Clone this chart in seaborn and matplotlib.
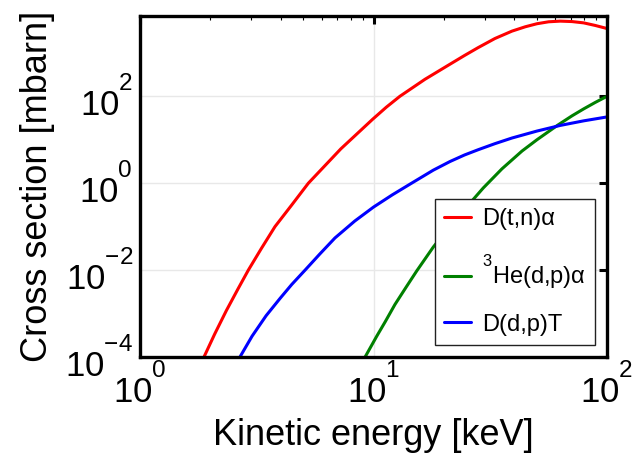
import numpy as np
import pandas as pd
import matplotlib
matplotlib.use("Agg")
import matplotlib.pyplot as plt
import matplotlib.ticker as mticker
import seaborn as sns

try:
    import matplotlib._mathtext as _mt
    _mt.FontConstantsBase.sup1 = 1.35   # raise superscripts like the reference
except Exception:
    pass

# ---- data (log10 of energy in keV, log10 of cross section in mbarn)
dt_logE = [0.274, 0.32, 0.37, 0.42, 0.464, 0.52, 0.578, 0.65, 0.721, 0.86, 0.996, 1.055, 1.113,
           1.22, 1.328, 1.39, 1.448, 1.52, 1.593, 1.65, 1.70, 1.75, 1.80, 1.85, 1.90, 1.95, 2.0]
dt_logS = [-4.0, -3.47, -2.93, -2.43, -2.0, -1.5, -1.0, -0.5, 0.0, 0.79, 1.47, 1.75, 2.0,
           2.39, 2.74, 2.94, 3.12, 3.33, 3.50, 3.60, 3.67, 3.715, 3.73, 3.72, 3.69, 3.63, 3.56]

he3_logE = [0.964, 1.014, 1.05, 1.092, 1.14, 1.185, 1.256, 1.33, 1.40, 1.47, 1.55, 1.636,
            1.70, 1.79, 1.85, 1.90, 1.95, 2.0]
he3_logS = [-4.0, -3.52, -3.19, -2.79, -2.39, -2.02, -1.47, -0.97, -0.54, -0.11, 0.33, 0.74,
            1.0, 1.34, 1.55, 1.71, 1.86, 2.0]

dd_logE = [0.428, 0.48, 0.54, 0.60, 0.65, 0.707, 0.77, 0.835, 0.92, 1.0, 1.08, 1.163, 1.256,
           1.328, 1.39, 1.448, 1.52, 1.593, 1.70, 1.80, 1.90, 2.0]
dd_logS = [-4.0, -3.52, -3.05, -2.65, -2.33, -2.0, -1.63, -1.26, -0.87, -0.55, -0.27, 0.0, 0.30,
           0.50, 0.65, 0.77, 0.91, 1.04, 1.20, 1.33, 1.435, 1.525]

labels = ["D(t,n)α", r"$\mathregular{^{3}}$He(d,p)α", "D(d,p)T"]
colors = ["#ff0000", "#008000", "#0000ff"]

x_ticks = [1, 10, 100]
x_ticklabels = [r"$\mathregular{10^{0}}$", r"$\mathregular{10^{1}}$", r"$\mathregular{10^{2}}$"]
y_ticks = [1e-4, 1e-2, 1e0, 1e2]
y_ticklabels = [r"$\mathregular{10^{-4}}$", r"$\mathregular{10^{-2}}$", r"$\mathregular{10^{0}}$", r"$\mathregular{10^{2}}$"]

frames = []
for lab, le, ls in zip(labels, [dt_logE, he3_logE, dd_logE], [dt_logS, he3_logS, dd_logS]):
    frames.append(pd.DataFrame({"E": 10 ** np.array(le), "sigma": 10 ** np.array(ls), "reaction": lab}))
df = pd.concat(frames, ignore_index=True)

sns.set_style("white")
plt.rcParams["font.family"] = ["Liberation Sans", "DejaVu Sans"]
plt.rcParams["mathtext.fontset"] = "custom"
plt.rcParams["mathtext.rm"] = "Liberation Sans"
plt.rcParams["mathtext.it"] = "Liberation Sans:italic"
plt.rcParams["mathtext.bf"] = "Liberation Sans:bold"
plt.rcParams["axes.unicode_minus"] = True
for k in ["text.color", "axes.labelcolor", "xtick.color", "ytick.color"]:
    plt.rcParams[k] = "black"

fig = plt.figure(figsize=(6.36, 4.55), dpi=100)
ax = fig.add_axes([140 / 636, 1 - 357 / 455, 467 / 636, (357 - 15.6) / 455])

sns.lineplot(data=df, x="E", y="sigma", hue="reaction", hue_order=labels,
             palette=dict(zip(labels, colors)), estimator=None, sort=False,
             linewidth=2.2, ax=ax)

ax.set_xscale("log")
ax.set_yscale("log")
ax.set_xlim(1, 100)
ax.set_ylim(1e-4, 7.2e3)

ax.xaxis.set_major_locator(mticker.FixedLocator(x_ticks))
ax.xaxis.set_major_formatter(mticker.FixedFormatter(x_ticklabels))
ax.xaxis.set_minor_locator(mticker.LogLocator(base=10, subs=np.arange(2, 10)))
ax.xaxis.set_minor_formatter(mticker.NullFormatter())
ax.yaxis.set_major_locator(mticker.FixedLocator(y_ticks))
ax.yaxis.set_major_formatter(mticker.FixedFormatter(y_ticklabels))
ax.yaxis.set_minor_locator(mticker.NullLocator())

ax.grid(True, which="major", color="#e8e8e8", linewidth=1.0)
ax.set_axisbelow(True)

for sp in ax.spines.values():
    sp.set_visible(True)
    sp.set_color("black")
    sp.set_linewidth(2.4)

ax.tick_params(which="major", direction="in", length=5.5, width=2.2, top=True, right=True,
               labelsize=25, pad=4, colors="black")
ax.tick_params(axis="y", which="major", pad=5)
ax.tick_params(which="minor", direction="in", length=3, width=0.8, top=True, right=True)

ax.set_xlabel("Kinetic energy [keV]", fontsize=26, labelpad=6)
ax.set_ylabel("Cross section [mbarn]", fontsize=26, labelpad=7)

leg = ax.legend(loc="lower right", fontsize=17, frameon=True, fancybox=False,
                edgecolor="#222222", framealpha=1, labelspacing=0.95,
                handlelength=1.15, handletextpad=0.45, borderpad=0.4,
                borderaxespad=0.5, title=None)
leg.get_frame().set_linewidth(1.0)

fig.savefig("out.png", dpi=100)
